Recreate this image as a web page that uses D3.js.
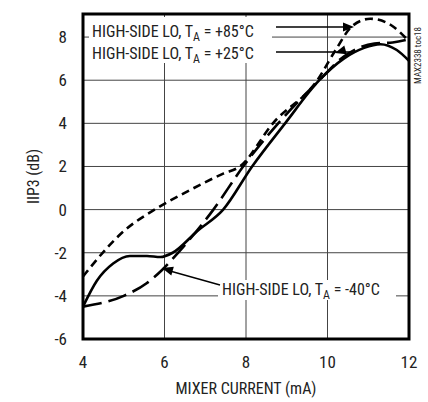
<!DOCTYPE html>
<html>
<head>
<meta charset="utf-8">
<script src="https://cdn.jsdelivr.net/npm/d3@7"></script>
<style>
  body { margin: 0; background: #fff; }
  svg text { font-family: "Liberation Sans Narrow", "Arial Narrow", "Roboto Condensed", sans-serif; fill: #222; }
</style>
</head>
<body>
<svg id="chart" width="428" height="402"></svg>
<script>
// mixer current (mA) vs IIP3 (dB)
const xTicks = [4, 6, 8, 10, 12];
const yTicks = [-6, -4, -2, 0, 2, 4, 6, 8];

// TA = +25C (solid)
const curr25 = [4, 4.34, 4.74, 5.15, 5.57, 5.9, 6.2, 6.8, 7.44, 8.15, 8.96, 9.8, 10.4, 10.9, 11.3, 11.7, 12];
const iip25 = [-4.5, -3.3, -2.5, -2.15, -2.15, -2.2, -2.0, -1.0, 0, 2, 4, 6, 7.0, 7.5, 7.67, 7.4, 6.9];

// TA = +85C (short dash)
const curr85 = [4, 4.17, 5, 5.8, 6.6, 7.44, 7.85, 8.66, 9.75, 10.2, 10.6, 11.05, 11.6, 12];
const iip85 = [-3.1, -2.7, -1.0, 0.05, 0.88, 1.67, 2.0, 4, 6, 7.4, 8.5, 8.85, 8.5, 7.8];

// TA = -40C (long dash)
const currM40 = [4, 5, 5.57, 5.94, 6.38, 7.2, 7.93, 8.79, 9.8, 10.4, 11.15, 11.6, 12];
const iipM40 = [-4.5, -4.0, -3.4, -2.8, -1.9, 0, 2, 4, 6, 7.1, 7.7, 7.75, 7.9];

const svg = d3.select("#chart");
const margin = { top: 14, right: 19, bottom: 63, left: 83 };
const width = +svg.attr("width") - margin.left - margin.right,
      height = +svg.attr("height") - margin.top - margin.bottom;

const x = d3.scaleLinear().domain([4, 12]).range([0, width]);
const y = d3.scaleLinear().domain([-6, 9.07]).range([height, 0]);

const g = svg.append("g").attr("transform", "translate(" + margin.left + "," + margin.top + ")");

// grid
g.selectAll(".vgrid").data(xTicks.slice(1, -1)).enter().append("line")
  .attr("x1", d => x(d)).attr("x2", d => x(d))
  .attr("y1", 0).attr("y2", height)
  .attr("stroke", "#444").attr("stroke-width", 1);
g.selectAll(".hgrid").data(yTicks.slice(1)).enter().append("line")
  .attr("x1", 0).attr("x2", width)
  .attr("y1", d => y(d)).attr("y2", d => y(d))
  .attr("stroke", "#444").attr("stroke-width", 1);

// tick labels
g.selectAll(".xlab").data(xTicks).enter().append("text")
  .attr("x", d => x(d)).attr("y", height + 29)
  .attr("text-anchor", "middle").attr("font-size", 17)
  .text(d => d);
g.selectAll(".ylab").data(yTicks).enter().append("text")
  .attr("x", -16).attr("y", d => y(d) + 6)
  .attr("text-anchor", "end").attr("font-size", 17)
  .text(d => d);

svg.append("text")
  .attr("x", margin.left + width / 2).attr("y", 394)
  .attr("text-anchor", "middle").attr("font-size", 16)
  .text("MIXER CURRENT (mA)");
svg.append("text")
  .attr("transform", "translate(39," + (margin.top + height / 2) + ") rotate(-90)")
  .attr("text-anchor", "middle").attr("font-size", 16)
  .text("IIP3 (dB)");

svg.append("text")
  .attr("transform", "translate(421,84) rotate(-90)")
  .attr("font-size", 9)
  .text("MAX2338 toc18");

// curves
const line = d3.line().x(d => x(d[0])).y(d => y(d[1])).curve(d3.curveMonotoneX);
const series = [
  { xs: curr25, ys: iip25, dash: null },
  { xs: curr85, ys: iip85, dash: "8,5" },
  { xs: currM40, ys: iipM40, dash: "19,7" }
];
series.forEach(s => {
  g.append("path")
    .datum(s.xs.map((v, i) => [v, s.ys[i]]))
    .attr("d", line)
    .attr("fill", "none")
    .attr("stroke", "#000")
    .attr("stroke-width", 2.6)
    .attr("stroke-dasharray", s.dash);
});

// label boxes and arrows
function arrowHead(tx, ty, fx, fy) {
  const a = Math.atan2(ty - fy, tx - fx), L = 11, W = 4.5;
  const bx = tx - L * Math.cos(a), by = ty - L * Math.sin(a);
  const px = -Math.sin(a) * W, py = Math.cos(a) * W;
  svg.append("path")
    .attr("d", "M" + tx + "," + ty + "L" + (bx + px) + "," + (by + py) + "L" + (bx - px) + "," + (by - py) + "Z")
    .attr("fill", "#000");
}

svg.append("rect").attr("x", 89).attr("y", 17).attr("width", 183).attr("height", 46).attr("fill", "#fff");
svg.append("rect").attr("x", 218).attr("y", 280).attr("width", 178).attr("height", 20).attr("fill", "#fff");

function label(xp, yp, temp) {
  const t = svg.append("text").attr("x", xp).attr("y", yp).attr("font-size", 16);
  t.append("tspan").text("HIGH-SIDE LO, T");
  t.append("tspan").attr("dy", 4).attr("font-size", 12).text("A");
  t.append("tspan").attr("dy", -4).text(" = " + temp);
}
label(92, 37, "+85°C");
label(92, 59, "+25°C");
label(222, 295, "-40°C");

const lk = svg.append("g").attr("stroke", "#000").attr("stroke-width", 1.3);
lk.append("line").attr("x1", 276).attr("y1", 27).attr("x2", 345).attr("y2", 27);
arrowHead(354, 27, 276, 27);
lk.append("line").attr("x1", 276).attr("y1", 52).attr("x2", 352).attr("y2", 52);
arrowHead(335, 53, 352, 48);
lk.append("line").attr("x1", 220).attr("y1", 285).attr("x2", 170).attr("y2", 271);
arrowHead(162, 268, 220, 285);

// frame
g.append("rect").attr("width", width).attr("height", height)
  .attr("fill", "none").attr("stroke", "#000").attr("stroke-width", 3);
</script>
</body>
</html>
